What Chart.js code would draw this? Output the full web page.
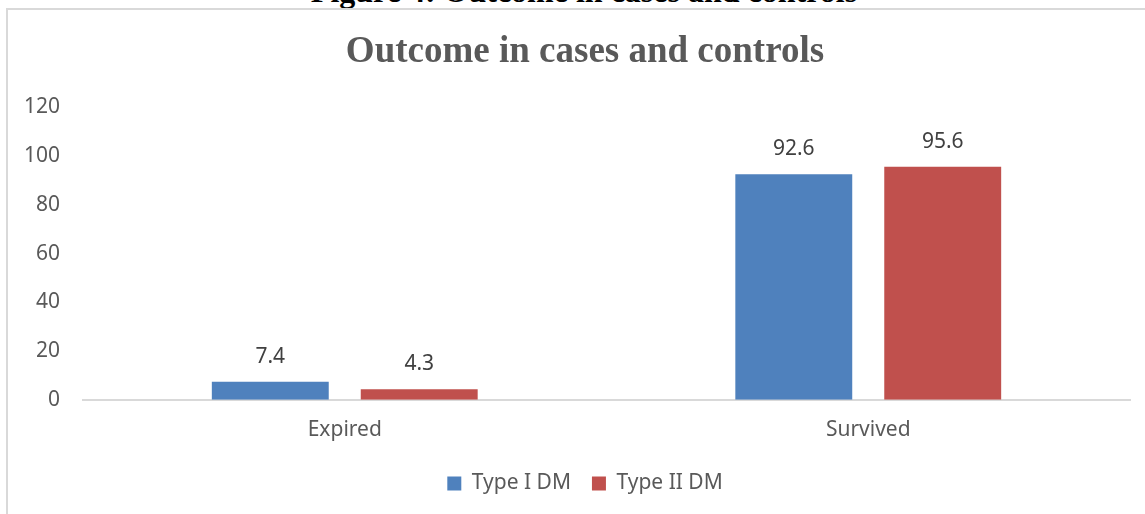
<!DOCTYPE html>
<html>
<head>
<meta charset="utf-8">
<script src="https://cdn.jsdelivr.net/npm/chart.js@4.4.1/dist/chart.umd.min.js"></script>
<style>
  html, body { margin: 0; padding: 0; background: #ffffff; overflow: hidden; }
  #wrap { position: relative; width: 1145px; height: 514px; }
  #caption {
    position: absolute; left: 0; width: 1168px; top: -27px;
    text-align: center; font: bold 32px "Liberation Serif", "DejaVu Serif", serif;
    color: #000; white-space: nowrap; line-height: 36px;
  }
  #frame {
    position: absolute; left: 6px; top: 8px; width: 1160px; height: 540px;
    border-left: 2px solid #d9d9d9; border-top: 2px solid #d9d9d9;
    pointer-events: none;
  }
  canvas { position: absolute; left: 0; top: 0; }
</style>
</head>
<body>
<div id="wrap">
  <div id="caption">Figure 4: Outcome in cases and controls</div>
  <canvas id="chart" width="1145" height="514"></canvas>
  <div id="frame"></div>
</div>
<script>
// Outcome categories and percentages per group
const categories = ["Expired", "Survived"];
const typeOneDM = [7.4, 92.6];
const typeTwoDM = [4.3, 95.6];
const seriesNames = ["Type I DM", "Type II DM"];
const yTicks = [0, 20, 40, 60, 80, 100, 120];

const textGrey = "#595959";
const labelFont = { family: "'Noto Sans', 'Open Sans', sans-serif", size: 21 };

// Writes each bar's value above it
const valueLabels = {
  id: "valueLabels",
  afterDatasetsDraw(chart) {
    const ctx = chart.ctx;
    ctx.save();
    ctx.font = `${labelFont.size}px ${labelFont.family}`;
    ctx.fillStyle = "#404040";
    ctx.textAlign = "center";
    ctx.textBaseline = "middle";
    chart.data.datasets.forEach((ds, i) => {
      chart.getDatasetMeta(i).data.forEach((bar, j) => {
        ctx.fillText(String(ds.data[j]), bar.x, bar.y - 25);
      });
    });
    ctx.restore();
  }
};

// Centres the title and legend on the framed chart box rather than the canvas
const centreOnFrame = {
  id: "centreOnFrame",
  afterLayout(chart) {
    if (chart.titleBlock) chart.titleBlock.left = 40;
    if (chart.legend) chart.legend.left = 40;
  }
};

new Chart(document.getElementById("chart"), {
  type: "bar",
  data: {
    labels: categories,
    datasets: [
      { label: seriesNames[0], data: typeOneDM, backgroundColor: "#4F81BD" },
      { label: seriesNames[1], data: typeTwoDM, backgroundColor: "#C0504D" }
    ]
  },
  options: {
    responsive: false,
    animation: false,
    devicePixelRatio: 1,
    categoryPercentage: 0.569,
    barPercentage: 0.785,
    layout: { padding: { left: 0, right: 15, top: 0, bottom: 10 } },
    plugins: {
      title: {
        display: true,
        text: "Outcome in cases and controls",
        color: textGrey,
        font: { family: "'Liberation Serif', 'DejaVu Serif', serif", size: 37, weight: "bold" },
        padding: { top: 30, bottom: 33 }
      },
      legend: {
        position: "bottom",
        labels: {
          color: textGrey,
          font: labelFont,
          boxWidth: 14,
          boxHeight: 14,
          padding: 21
        }
      },
      tooltip: { enabled: false }
    },
    scales: {
      x: {
        afterFit(axis) { axis.height -= 9; },
        grid: { display: false, drawTicks: false },
        border: { display: true, color: "#d9d9d9", width: 2 },
        ticks: { color: textGrey, font: labelFont, padding: 18 }
      },
      y: {
        min: 0,
        max: 120,
        afterFit(axis) { axis.width = 83; },
        afterBuildTicks(axis) { axis.ticks = yTicks.map(v => ({ value: v })); },
        grid: { display: false, drawTicks: false },
        border: { display: false },
        ticks: { color: textGrey, font: labelFont, padding: 23 }
      }
    }
  },
  plugins: [valueLabels, centreOnFrame]
});
</script>
</body>
</html>
